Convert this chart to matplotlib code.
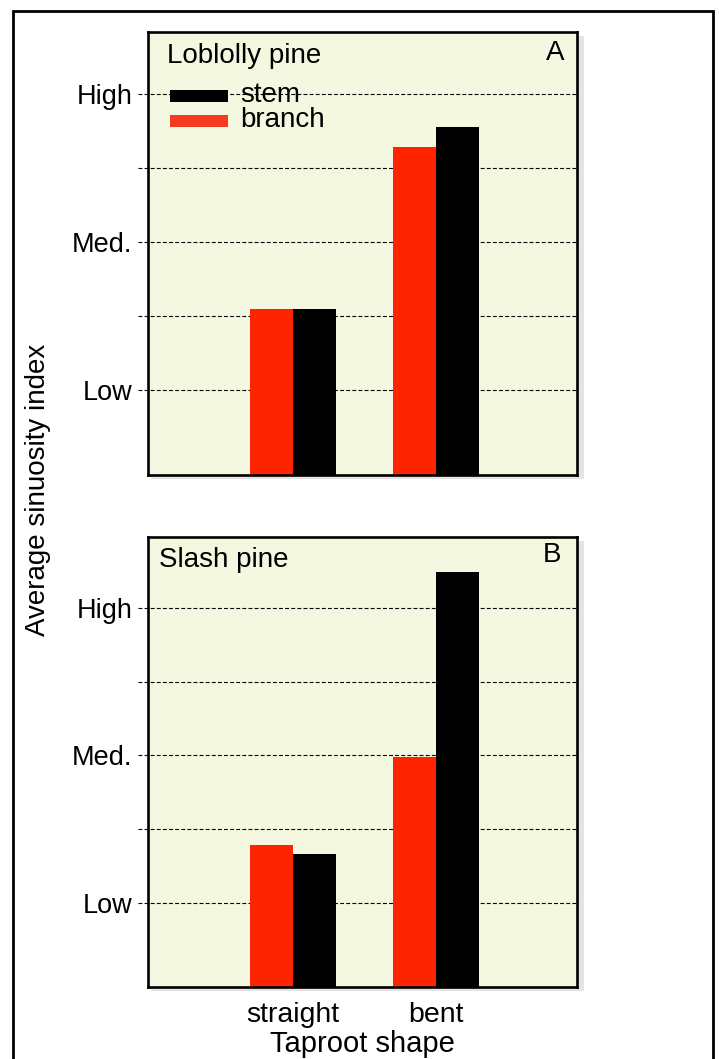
import matplotlib
matplotlib.use("Agg")
import matplotlib.pyplot as plt
from matplotlib.patches import Rectangle
import numpy as np

plt.rcParams['font.family'] = ['Liberation Sans', 'DejaVu Sans']

# ---- data ----
categories = ["straight", "bent"]
series_names = ["branch", "stem"]
loblolly_branch = [1.55, 2.64]
loblolly_stem = [1.55, 2.78]
slash_branch = [1.39, 1.99]
slash_stem = [1.33, 3.24]
ytick_vals = [1, 2, 3]
ytick_labels = ["Low", "Med.", "High"]
grid_vals = [1, 1.5, 2, 2.5, 3]

W, H = 719, 1059
fig = plt.figure(figsize=(W / 100, H / 100), dpi=100)
fig.patch.set_facecolor("white")

RED = "#ff2400"
BLACK = "#000000"
BG = "#f4f8e0"
FS = 20


def px_box(x0, y0, x1, y1):
    return [x0 / W, 1 - y1 / H, (x1 - x0) / W, (y1 - y0) / H]


# outer border
fig.patches.append(Rectangle((13 / W, -0.02), 700 / W, 1 - 11 / H + 0.02,
                             transform=fig.transFigure, fill=False,
                             edgecolor="black", linewidth=2.0, zorder=-2))


def make_panel(box, branch, stem, ylim, title, letter, letter_xy):
    x0, y0, x1, y1 = box
    # soft shadow
    fig.patches.append(Rectangle(((x0 + 3) / W, 1 - (y1 + 4) / H), (x1 - x0 + 4) / W,
                                 (y1 - y0) / H, transform=fig.transFigure,
                                 facecolor="#e8e2e2", edgecolor="none", zorder=-1))
    ax = fig.add_axes(px_box(*box))
    ax.set_facecolor(BG)
    x = np.arange(len(categories))
    w = 0.30
    ax.bar(x - w / 2, np.array(branch) - ylim[0], w, bottom=ylim[0], color=RED,
           edgecolor="none", zorder=3)
    ax.bar(x + w / 2, np.array(stem) - ylim[0], w, bottom=ylim[0], color=BLACK,
           edgecolor="none", zorder=3)
    for g in grid_vals:
        ax.axhline(g, xmin=-0.023, xmax=1, color="black", lw=0.8,
                   linestyle=(0, (3.5, 2.0)), clip_on=False, zorder=1)
    ax.set_xlim(-1.014, 1.986)
    ax.set_ylim(*ylim)
    ax.set_yticks(ytick_vals)
    ax.set_yticklabels(ytick_labels, fontsize=19.5)
    ax.tick_params(axis="y", length=0, pad=11)
    ax.set_xticks(x)
    ax.set_xticklabels([])
    ax.tick_params(axis="x", length=0)
    for s in ax.spines.values():
        s.set_linewidth(1.9)
        s.set_color("black")
        s.set_zorder(6)
    ax.text(title[1], title[2], title[0], transform=ax.transAxes, fontsize=FS,
            ha="left", va="center")
    ax.text(letter_xy[0], letter_xy[1], letter, transform=ax.transAxes,
            fontsize=FS, ha="center", va="center")
    return ax


axA = make_panel((148, 32, 577, 475), loblolly_branch, loblolly_stem,
                 (0.426, 3.42), ("Loblolly pine", 0.045, 0.945), "A", (0.949, 0.953))
axB = make_panel((148, 537, 577, 987), slash_branch, slash_stem,
                 (0.43, 3.48), ("Slash pine", 0.025, 0.949), "B", (0.942, 0.960))

# legend (panel A), stem first then branch
leg_items = [("stem", BLACK, 96), ("branch", "#f43a22", 121)]
for name, col, yc in leg_items:
    axA.add_patch(Rectangle(((170 - 148) / 429, (475 - yc - 6) / 443), 58 / 429, 12 / 443,
                            transform=axA.transAxes, facecolor=col, edgecolor="none",
                            zorder=4))
    axA.text((240 - 148) / 429, (475 - yc + 1) / 443, name, transform=axA.transAxes,
             fontsize=FS, ha="left", va="center", zorder=5)

axB.set_xticklabels(categories, fontsize=20.5)
axB.tick_params(axis="x", pad=11)
axB.set_xlabel("Taproot shape", fontsize=21, labelpad=1)

fig.text(38 / W, 1 - 490 / H, "Average sinuosity index", rotation=90,
         fontsize=FS, ha="center", va="center")

fig.savefig("out.png", dpi=100)
